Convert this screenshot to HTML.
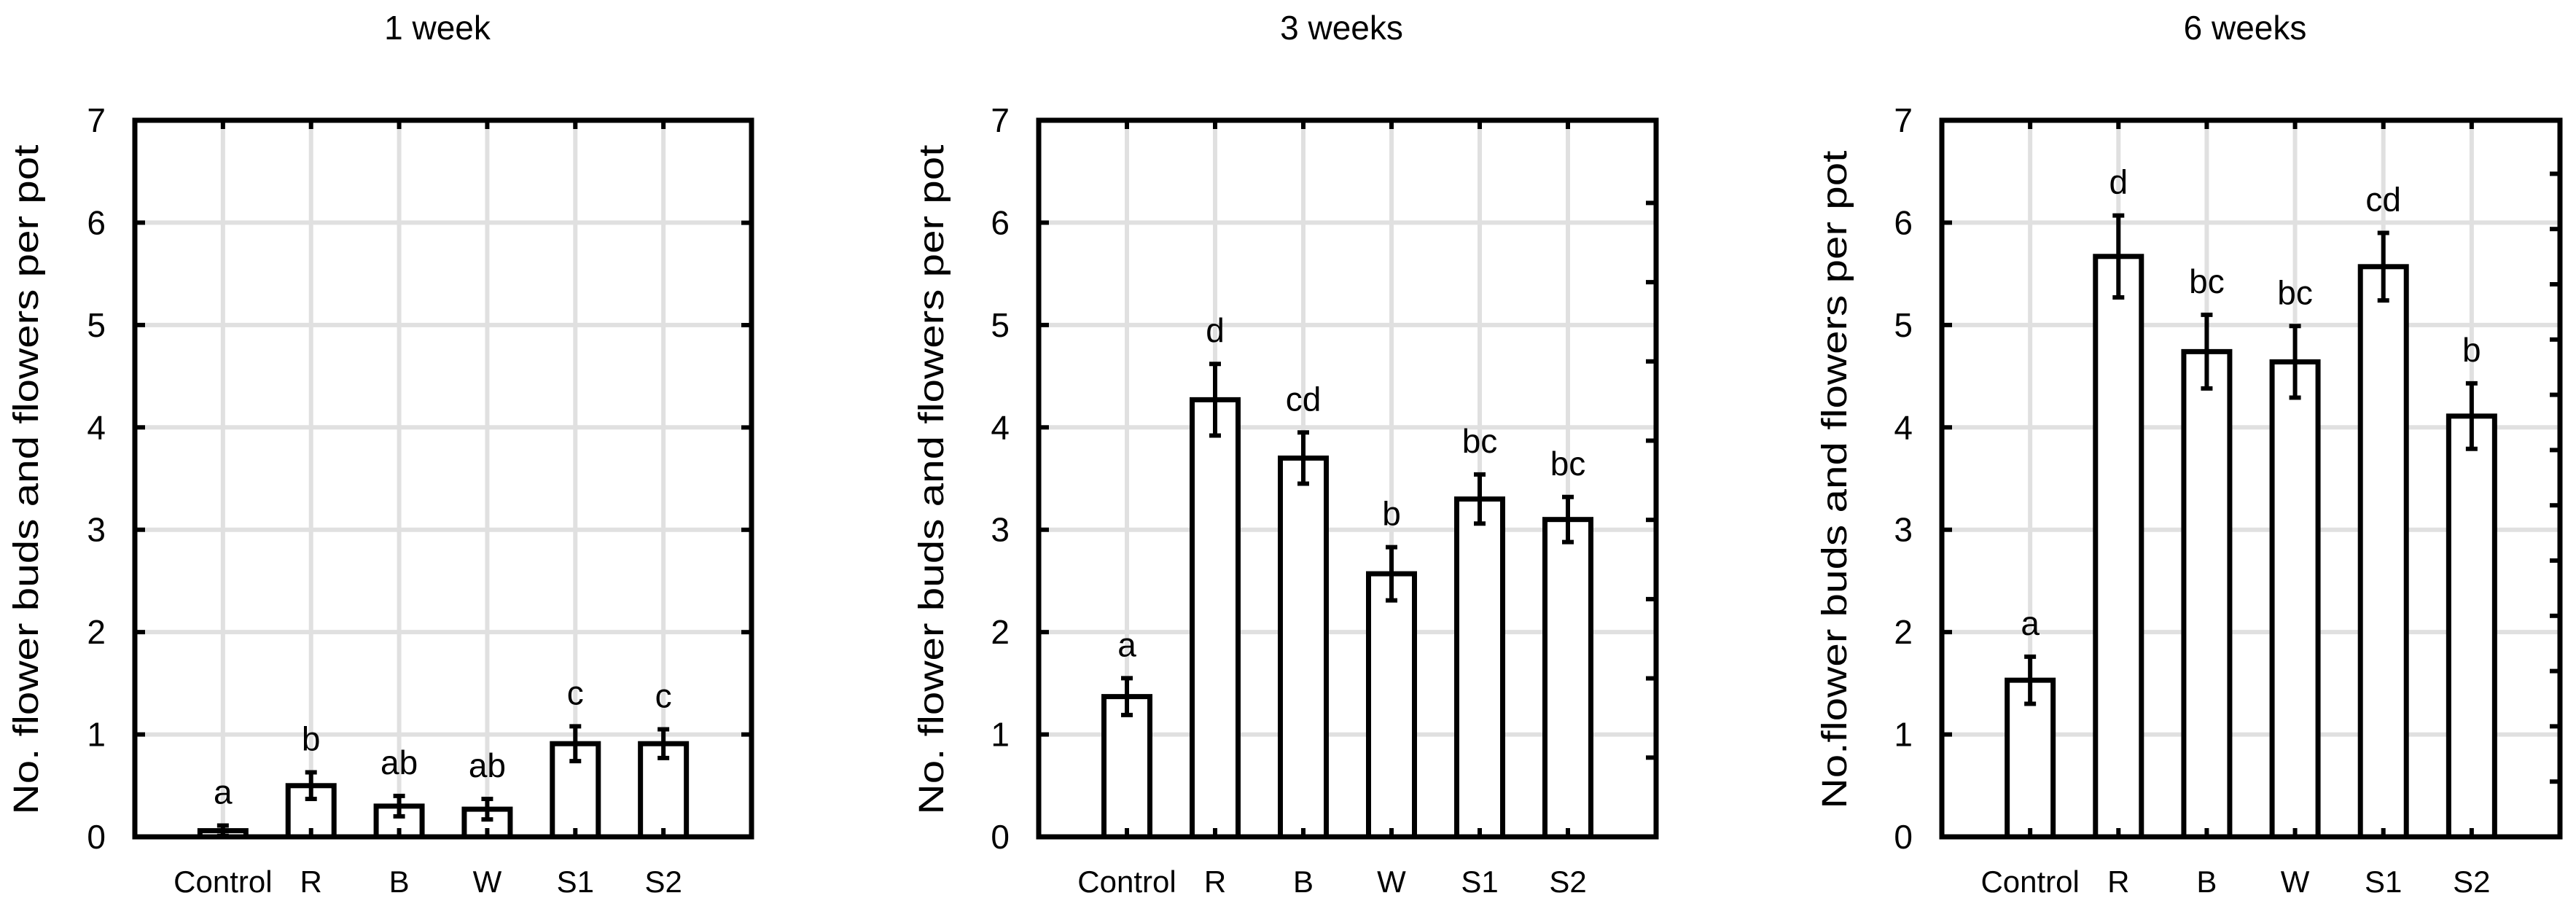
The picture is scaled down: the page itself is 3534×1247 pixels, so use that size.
<!DOCTYPE html>
<html><head><meta charset="utf-8"><style>
html,body{margin:0;padding:0;background:#fff;}
svg{display:block;font-family:"Liberation Sans",Arial,sans-serif;}
</style></head><body>
<svg id="fig" width="3534" height="1247" viewBox="0 0 3534 1247"></svg>
<script>
const categories = ["Control","R","B","W","S1","S2"];
const titles = ["1 week","3 weeks","6 weeks"];
const means1 = [0.06,0.50,0.30,0.27,0.91,0.91];
const se1 = [0.05,0.13,0.10,0.10,0.17,0.14];
const means2 = [1.37,4.27,3.70,2.57,3.30,3.10];
const se2 = [0.18,0.35,0.25,0.26,0.24,0.22];
const means3 = [1.53,5.67,4.74,4.64,5.57,4.11];
const se3 = [0.23,0.40,0.36,0.35,0.33,0.32];
const letters1 = ["a","b","ab","ab","c","c"];
const letters2 = ["a","d","cd","b","bc","bc"];
const letters3 = ["a","d","bc","bc","cd","b"];
const yTicks = [0,1,2,3,4,5,6,7];
const yTitles = ["No. flower buds and flowers per pot","No. flower buds and flowers per pot","No.flower buds and flowers per pot"];

const NS = "http://www.w3.org/2000/svg";
const svg = document.getElementById("fig");
function mk(tag, attrs, parent){
  const e = document.createElementNS(NS, tag);
  for (const k in attrs) e.setAttribute(k, attrs[k]);
  (parent||svg).appendChild(e);
  return e;
}
const panels = [
  {left:185, right:1031, yTitleX:35, yTitleLen:919, rightTicks:[1,2,3,4,5,6], rightStep:140.4, means:means1, se:se1, letters:letters1},
  {left:1425, right:2272, yTitleX:1277, yTitleLen:919, rightTicks:[1,2,3,4,5,6,7,8], rightStep:108.7, means:means2, se:se2, letters:letters2},
  {left:2664, right:3512, yTitleX:2516, yTitleLen:903, rightTicks:[1,2,3,4,5,6,7,8,9,10,11,12], rightStep:75.8, means:means3, se:se3, letters:letters3}
];
const plotTop = 165, plotBottom = 1148, yMax = 7;
panels.forEach((p, pi) => {
  const g = mk("g", {});
  
  
  const slot = (p.right - p.left) / 7;
  const y = v => plotBottom - v / yMax * (plotBottom - plotTop);
  const x = i => p.left + (i + 1) * slot;
  yTicks.forEach(t => {
    const l = mk("line", {x1:p.left, x2:p.right, y1:y(t), y2:y(t), stroke:"#e0e0e0", "stroke-width":6}, g);
    
    
  });
  categories.forEach((c, i) => {
    const l = mk("line", {x1:x(i), x2:x(i), y1:plotTop, y2:plotBottom, stroke:"#e0e0e0", "stroke-width":6}, g);
    
    
  });
  const bw = 63;
  categories.forEach((c, i) => {
    const m = p.means[i], s = p.se[i];
    const r = mk("rect", {x:x(i)-bw/2, y:y(m), width:bw, height:plotBottom-y(m), fill:"#fff", stroke:"#000", "stroke-width":7}, g);
    
    
    const e = mk("path", {d:`M${x(i)},${y(m+s)}V${y(m-s)}M${x(i)-8},${y(m+s)}H${x(i)+8}M${x(i)-8},${y(m-s)}H${x(i)+8}`, stroke:"#000", "stroke-width":6, fill:"none"}, g);
    
    
    const t = mk("text", {x:x(i), y:y(m+s)-30, "text-anchor":"middle", "font-size":46}, g);
    t.textContent = p.letters[i];
    
    
    const xl = mk("text", {x:x(i), y:1224, "text-anchor":"middle", "font-size":42}, g);
    xl.textContent = c;
    
    
    const tk = mk("path", {d:`M${x(i)},${plotBottom}v-12M${x(i)},${plotTop}v12`, stroke:"#000", "stroke-width":6}, g);
    
    
  });
  yTicks.forEach(t => {
    const tk = mk("line", {x1:p.left, x2:p.left+14, y1:y(t), y2:y(t), stroke:"#000", "stroke-width":6}, g);
    
    
    const tl = mk("text", {x:p.left-40, y:y(t)+16, "text-anchor":"end", "font-size":46}, g);
    tl.textContent = t;
    
    
  });
  p.rightTicks.forEach(k => {
    const yy = plotBottom - k * p.rightStep;
    const tk = mk("line", {x1:p.right, x2:p.right-14, y1:yy, y2:yy, stroke:"#000", "stroke-width":6}, g);
    
    
  });
  const fr = mk("rect", {x:p.left, y:plotTop, width:p.right-p.left, height:plotBottom-plotTop, fill:"none", stroke:"#000", "stroke-width":7}, g);
  
  
  const tt = mk("text", {x:(p.left+p.right)/2 - 8, y:54, "text-anchor":"middle", "font-size":46}, g);
  tt.textContent = titles[pi];
  
  
  const yt = mk("text", {x:0, y:0, "text-anchor":"middle", "font-size":48, textLength:p.yTitleLen, lengthAdjust:"spacingAndGlyphs", transform:`translate(${p.yTitleX+17},658) rotate(-90)`}, g);
  yt.textContent = yTitles[pi];
  
  
});
</script>
</body></html>
